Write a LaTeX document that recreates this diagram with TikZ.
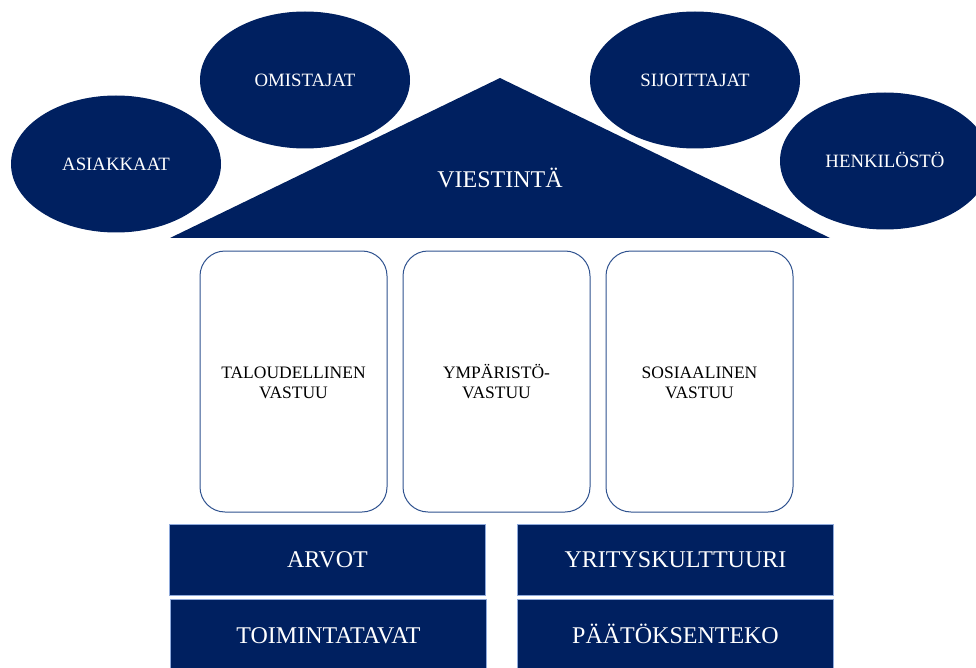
\documentclass[tikz,border=0pt]{standalone}
\usepackage{fontspec}
\setmainfont{Liberation Serif}
\usetikzlibrary{shapes.geometric}
\definecolor{navy}{RGB}{0,32,96}
\definecolor{edgeblue}{RGB}{47,82,143}
\definecolor{paleblue}{RGB}{143,170,220}

\begin{document}
\begin{tikzpicture}[x=1pt,y=-1pt,
    sidosryhma/.style={ellipse,fill=navy,text=white,inner sep=0pt,
      minimum width=210pt,minimum height=137pt,text height=12.4pt,text depth=0pt,
      font=\fontsize{18.8}{22}\selectfont},
    pilari/.style={draw=edgeblue,line width=1pt,rounded corners=25pt,fill=white,
      inner sep=0pt,minimum width=187pt,minimum height=261pt,align=center,
      font=\fontsize{17.5}{20.5}\selectfont},
    perusta/.style={draw=paleblue,line width=0.8pt,fill=navy,text=white,
      inner sep=0pt,minimum width=316pt,minimum height=71pt,text height=16pt,text depth=0pt,
      font=\fontsize{24}{28}\selectfont}]
        \useasboundingbox (0,0) rectangle (976,668);
        \clip (0,0) rectangle (976,668);

        % katto
        \fill[navy] (500,78)--(830,238)--(170,238)--cycle;
        \node[text=white,inner sep=0pt,text height=16pt,text depth=0pt,
          font=\fontsize{24}{28}\selectfont] (viestinta) at (500,180) {VIESTINTÄ};

        % sidosryhmat
        \node[sidosryhma] (asiakkaat) at (116,164) {ASIAKKAAT};
        \node[sidosryhma] (omistajat) at (305,80) {OMISTAJAT};
        \node[sidosryhma] (sijoittajat) at (695,80) {SIJOITTAJAT};
        \node[sidosryhma] (henkilosto) at (885,161) {HENKILÖSTÖ};

        % pilarit
        \node[pilari] (talous) at (293.5,381.5) {TALOUDELLINEN\vphantom{Ä}\\VASTUU};
        \node[pilari] (ymparisto) at (496.5,381.5) {YMPÄRISTÖ-\\VASTUU};
        \node[pilari] (sosiaalinen) at (699.5,381.5) {SOSIAALINEN\vphantom{Ä}\\VASTUU};

        % perusta
        \node[perusta] (arvot) at (327.5,559.5) {ARVOT};
        \node[perusta] (kulttuuri) at (675.5,559.5) {YRITYSKULTTUURI};
        \node[perusta] (toiminta) at (328.5,635) {TOIMINTATAVAT};
        \node[perusta] (paatokset) at (675.5,635) {PÄÄTÖKSENTEKO};
    \end{tikzpicture}
\end{document}
